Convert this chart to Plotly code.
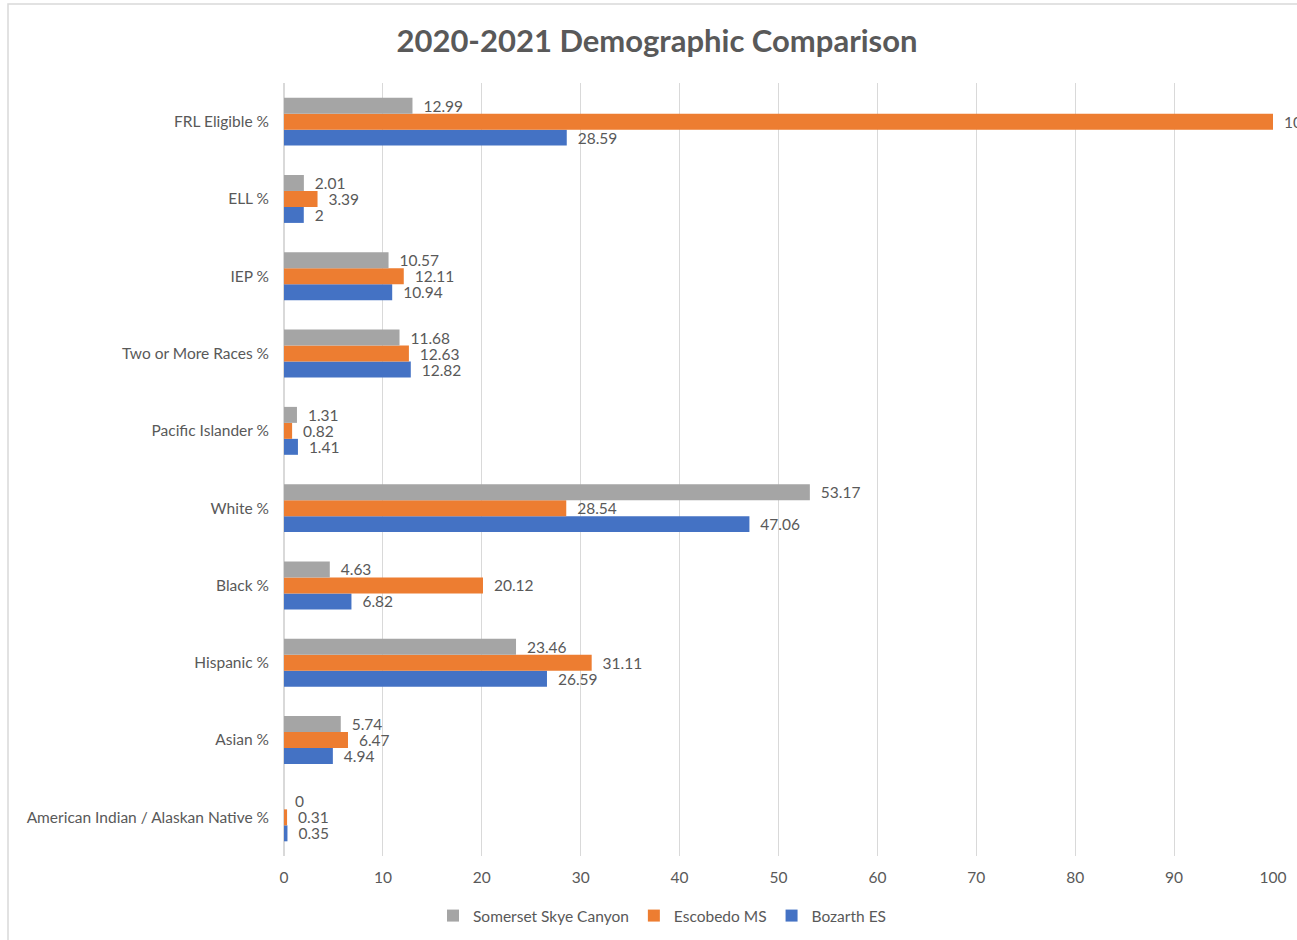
import plotly.graph_objects as go

categories = ["American Indian / Alaskan Native %", "Asian %", "Hispanic %", "Black %",
              "White %", "Pacific Islander %", "Two or More Races %", "IEP %", "ELL %",
              "FRL Eligible %"]
bozarth = [0.35, 4.94, 26.59, 6.82, 47.06, 1.41, 12.82, 10.94, 2, 28.59]
escobedo = [0.31, 6.47, 31.11, 20.12, 28.54, 0.82, 12.63, 12.11, 3.39, 100]
somerset = [0, 5.74, 23.46, 4.63, 53.17, 1.31, 11.68, 10.57, 2.01, 12.99]
x_ticks = [0, 10, 20, 30, 40, 50, 60, 70, 80, 90, 100]

FONT = "Lato, 'Open Sans', sans-serif"
LABEL = "#595959"

fig = go.Figure()
for name, vals, color in [("Bozarth ES", bozarth, "#4472C4"),
                          ("Escobedo MS", escobedo, "#ED7D31"),
                          ("Somerset Skye Canyon", somerset, "#A5A5A5")]:
    fig.add_trace(go.Bar(
        y=categories, x=vals, name=name, orientation="h",
        marker=dict(color=color, line=dict(width=0)),
        text=["\u00a0\u00a0" + f"{v:g}" for v in vals], textposition="outside",
        textfont=dict(family=FONT, size=15.5, color=LABEL),
        constraintext="none",
        cliponaxis=False,
    ))

W, H = 1297, 940
ml, mr, mt, mb = 284, 24, 83, 84
pw = W - ml - mr
ph = H - mt - mb

fig.update_layout(
    width=W, height=H,
    margin=dict(l=ml, r=mr, t=mt, b=mb, autoexpand=False),
    paper_bgcolor="white", plot_bgcolor="white",
    barmode="group", bargap=0.38, bargroupgap=0,
    font=dict(family=FONT, color=LABEL, size=15.5),
    title=dict(text="<b>2020-2021 Demographic Comparison</b>",
               font=dict(family=FONT, size=31, color="#595959"),
               x=(657 - ml) / pw, xref="paper", xanchor="center",
               y=1 - 41 / H, yref="container", yanchor="middle"),
    xaxis=dict(range=[0, 100], tickvals=x_ticks, showgrid=True,
               gridcolor="#D9D9D9", gridwidth=1, zeroline=True,
               zerolinecolor="#D9D9D9", showline=False, ticks="",
               ticklabelstandoff=10, automargin=False,
               tickfont=dict(size=15.5, color=LABEL), fixedrange=True),
    yaxis=dict(categoryorder="array", categoryarray=categories, showgrid=False,
               ticks="", ticklabelstandoff=14, automargin=False,
               tickfont=dict(size=15.5, color=LABEL)),
    legend=dict(orientation="h", traceorder="reversed",
                x=(662 - ml) / pw, xanchor="center",
                y=(H - 916) / H, yref="container", yanchor="middle",
                font=dict(size=15.5, color=LABEL), itemwidth=30,
                itemclick=False),
    showlegend=True,
    shapes=[dict(type="rect", xref="paper", yref="paper",
                 x0=(8 - ml) / pw, x1=(1320 - ml) / pw,
                 y0=-(960 - (H - mb)) / ph, y1=1 + (mt - 4) / ph,
                 line=dict(color="#D9D9D9", width=1.5), layer="below")],
)

fig.write_html("out.html")
